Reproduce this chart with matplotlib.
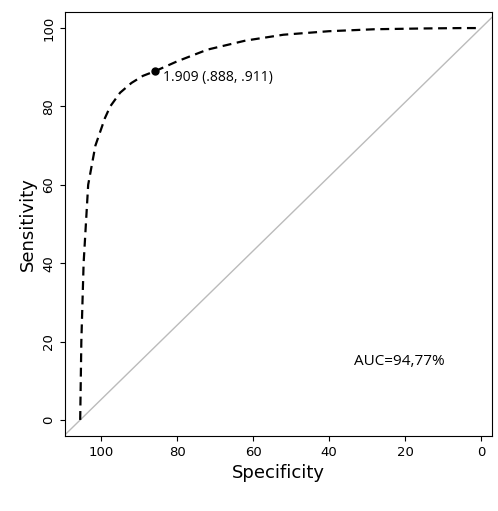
import matplotlib
matplotlib.use("Agg")
import matplotlib.pyplot as plt

spec = [105.5, 105.2, 104.6, 103.4, 101.5, 99, 97.6, 95, 92, 89, 85.8, 80, 72, 62, 52, 40, 28, 15, 5, 0]
sens = [0, 20, 40, 60, 70, 77, 80, 83.5, 86, 87.8, 89, 91.5, 94.5, 96.8, 98.3, 99.2, 99.7, 99.9, 100, 100]
ticks = [100, 80, 60, 40, 20, 0]
best = (85.8, 89.0)
best_label = "1.909 (.888, .911)"
auc_label = "AUC=94,77%"

fig = plt.figure(figsize=(4.98, 5.11), dpi=100)
ax = fig.add_axes([65/498, 75/511, 427/498, 424/511])
ax.axline((105.5, 0), (0, 100), color="#bbbbbb", lw=1)
ax.plot(spec, sens, "k--", lw=1.6, dashes=(4, 2.5))
ax.plot(*best, "ko", ms=5)
ax.text(best[0] - 2, best[1] - 1.5, best_label, fontsize=10, va="center", family="Open Sans")
ax.text(33.5, 14.8, auc_label, fontsize=11, va="center", family="Open Sans")
ax.set_xlim(109.5, -2.9)
ax.set_ylim(-4.1, 104.1)
ax.set_xticks(ticks)
ax.set_yticks(ticks)
ax.tick_params(labelsize=9.5)
for l in ax.get_yticklabels():
    l.set_rotation(90)
    l.set_va("center")
ax.set_xlabel("Specificity", fontsize=13)
ax.set_ylabel("Sensitivity", fontsize=13)
fig.savefig("out.png", dpi=100)
